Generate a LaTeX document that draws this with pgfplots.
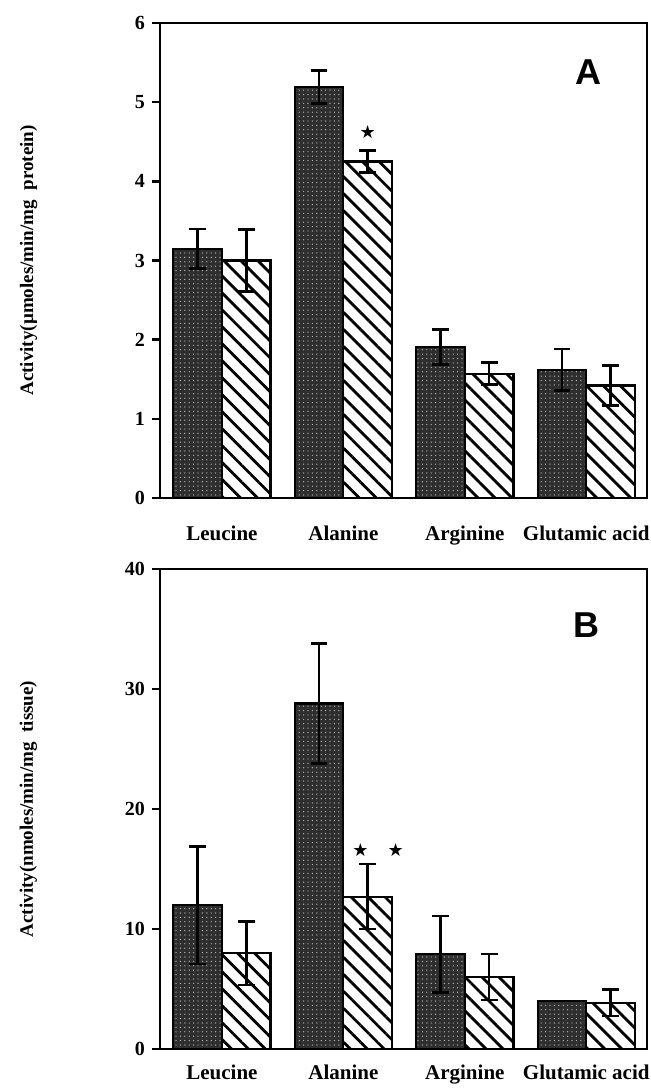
\documentclass[border=0pt]{standalone}
\usepackage{pgfplots}
\pgfplotsset{compat=1.18}
\usetikzlibrary{patterns.meta}
\usepackage{fontspec}
\setmainfont{Liberation Serif}
\newfontfamily\headfont{Liberation Sans}
\newfontfamily\symfont{DejaVu Sans}

\begin{document}
\begin{tikzpicture}
\path[use as bounding box] (0,0) rectangle (325pt,544.5pt);
\pgfplotsset{
  panel/.style={
    scale only axis, width=243.5pt,
    xmin=-0.51, xmax=3.5, ymin=0,
    ybar, bar width=0.4,
    xtick={0,1,2,3}, xticklabels={Leucine,Alanine,Arginine,Glutamic acid},
    x tick style={draw=none},
    xticklabel style={font=\fontsize{10.5}{12}\selectfont\bfseries},
    ytick pos=left, tick align=outside, major tick length=4pt,
    y tick style={line width=1.3pt, black},
    yticklabel style={font=\fontsize{10}{12}\selectfont\bfseries},
    axis line style={line width=1.4pt},
    ylabel style={font=\fontsize{9.5}{11}\selectfont\bfseries, at={(axis description cs:-0.27,0.5)}, anchor=center},
    clip=false,
    /pgf/number format/assume math mode=true,
  },
  ebar/.style={error bars/.cd, y dir=both, y explicit,
    error bar style={line width=1.3pt, black, solid},
    error mark options={rotate=90, mark size=4.2pt, line width=1.3pt, black}},
  dark/.style={draw=black, line width=1.1pt, fill=black!82, bar shift=-0.2,
    postaction={pattern={Dots[distance=2.2pt,radius=0.35pt]}, pattern color=white!70!black}, ebar},
  hatch/.style={draw=black, line width=1.1pt, fill=white, bar shift=0.2,
    postaction={pattern={Lines[angle=-45,distance=6pt,line width=1.4pt]}}, ebar},
}
% Panel A
\begin{axis}[panel, at={(80pt,295.5pt)}, anchor=south west, height=237.5pt,
  ymax=6, ytick={0,1,2,3,4,5,6},
  xticklabel style={yshift=-6.5pt},
  ylabel={Activity(\textmu moles/min/mg\ \ protein)}]
\addplot[dark] coordinates {(0,3.15) +- (0,0.25) (1,5.19) +- (0,0.21) (2,1.91) +- (0,0.22) (3,1.62) +- (0,0.26)};
\addplot[hatch] coordinates {(0,3.00) +- (0,0.39) (1,4.25) +- (0,0.14) (2,1.57) +- (0,0.14) (3,1.42) +- (0,0.25)};
\node[font=\headfont\bfseries\fontsize{18}{20}\selectfont] at (axis cs:3.02,5.38) {A};
\node[font=\symfont\fontsize{9}{10}\selectfont] at (axis cs:1.2,4.62) {★};
\end{axis}
% Panel B
\begin{axis}[panel, at={(80pt,20pt)}, anchor=south west, height=240pt,
  ymax=40, ytick={0,10,20,30,40},
  xticklabel style={yshift=-0.5pt},
  ylabel={Activity(nmoles/min/mg\ \ tissue)}]
\addplot[dark] coordinates {(0,12.0) +- (0,4.9) (1,28.8) +- (0,5.0) (2,7.9) +- (0,3.2) (3,4.0) +- (0,0)};
\addplot[hatch] coordinates {(0,8.0) +- (0,2.65) (1,12.7) +- (0,2.7) (2,6.0) +- (0,1.9) (3,3.85) +- (0,1.1)};
\node[font=\headfont\bfseries\fontsize{18}{20}\selectfont] at (axis cs:3.0,35.3) {B};
\node[font=\symfont\fontsize{9}{10}\selectfont] at (axis cs:1.14,16.6) {★};
\node[font=\symfont\fontsize{9}{10}\selectfont] at (axis cs:1.43,16.6) {★};
\end{axis}
\end{tikzpicture}
\end{document}
